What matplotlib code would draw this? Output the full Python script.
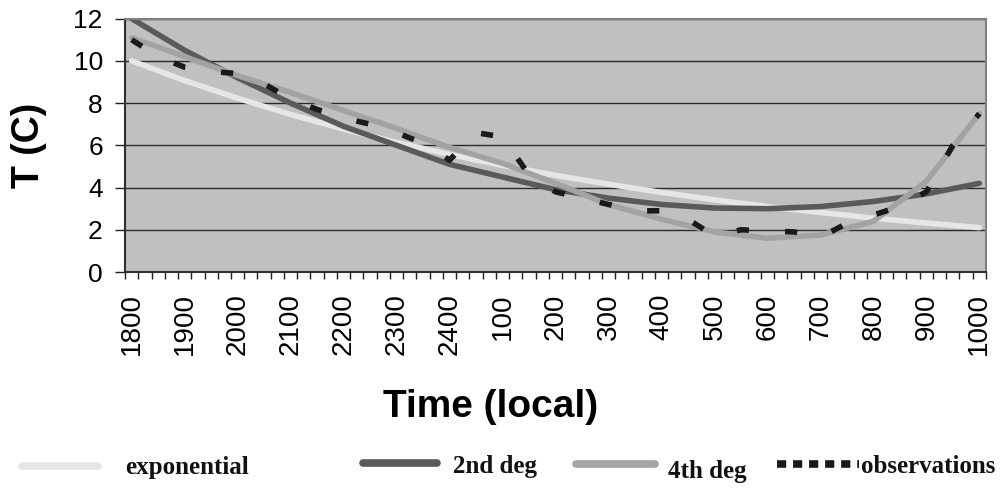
import numpy as np
import matplotlib
matplotlib.use("Agg")
import matplotlib.pyplot as plt
from matplotlib.lines import Line2D

# hour labels (one every 4 fifteen-minute categories)
hour_labels = ['1800', '1900', '2000', '2100', '2200', '2300', '2400', '100', '200',
               '300', '400', '500', '600', '700', '800', '900', '1000']

# observations, every half hour
observations = [11.0, 10.2, 9.7, 9.5, 9.4, 8.9, 8.2, 7.7, 7.3, 7.0, 6.6, 6.1, 5.3,
                6.6, 6.4, 4.6, 3.8, 3.5, 3.2, 2.9, 2.9, 2.5, 1.7, 2.0, 1.95, 1.9,
                1.65, 2.3, 2.7, 3.1, 3.8, 6.0, 7.5]

# trend lines, read every hour
exponential = [10.0, 9.07, 8.23, 7.46, 6.77, 6.14, 5.57, 5.05, 4.58, 4.16, 3.77,
               3.42, 3.10, 2.82, 2.55, 2.32, 2.10]
deg2 = [12.0, 10.5, 9.2, 8.0, 6.9, 6.0, 5.1, 4.5, 3.9, 3.5, 3.2, 3.03, 3.0, 3.1,
        3.34, 3.7, 4.2]
deg4 = [11.1, 10.2, 9.3, 8.5, 7.65, 6.8, 5.9, 5.15, 4.2, 3.2, 2.5, 1.9, 1.6, 1.75,
        2.4, 4.3, 7.5]

names = ['exponential', '2nd deg', '4th deg', 'observations']

n_cat = 65
x_hour = np.arange(len(hour_labels)) * 4
x_half = np.arange(len(observations)) * 2

fig = plt.figure(figsize=(10.02, 4.91), dpi=100)
ax = fig.add_axes([0.1248, 0.446, 0.984 - 0.1248, 0.962 - 0.446])
ax.set_facecolor('#c0c0c0')

c_exp, c_2, c_4, c_obs = '#e6e6e6', '#5a5a5a', '#a3a3a3', '#1a1a1a'
ax.plot(x_hour, exponential, color=c_exp, lw=4, solid_capstyle='round')
ax.plot(x_hour, deg2, color=c_2, lw=4, solid_capstyle='round')
ax.plot(x_hour, deg4, color=c_4, lw=4, solid_capstyle='round')
ax.plot(x_half, observations, color=c_obs, lw=4, dashes=(2.2, 6.5))

ax.set_xlim(-0.5, n_cat - 0.5)
ax.set_ylim(0, 12)
ax.set_yticks(range(0, 13, 2))
ax.yaxis.grid(True, color='#2a2a2a', lw=1)
ax.set_axisbelow(True)

ax.set_xticks(np.arange(-0.5, n_cat, 1))
ax.set_xticklabels([])
ax.tick_params(axis='x', length=5, width=1, color='#202020')
ax.tick_params(axis='y', length=7, width=1, color='#202020', labelsize=19, pad=9)
for lab in ax.get_yticklabels():
    lab.set_family('Liberation Sans')

for xp, lab in zip(x_hour, hour_labels):
    ax.text(xp, -1.0, lab, rotation=90, ha='center', va='top',
            fontsize=20, family='Liberation Sans')

for s in ['top', 'right']:
    ax.spines[s].set_color('#808080')
    ax.spines[s].set_linewidth(1.5)
for s in ['left', 'bottom']:
    ax.spines[s].set_color('#303030')
    ax.spines[s].set_linewidth(1.5)

fig.text(0.029, 0.703, 'T (C)', rotation=90, ha='center', va='center',
         fontsize=27, fontweight='bold', family='Liberation Sans')
fig.text(0.49, 0.171, 'Time (local)', ha='center', va='center',
         fontsize=28, fontweight='bold', family='Liberation Sans')

# legend drawn by hand to keep the uneven spacing of the original
line_x = [(0.022, 0.098), (0.362, 0.436), (0.575, 0.654), (0.775, 0.857)]
line_y = [0.050, 0.057, 0.056, 0.056]
text_x = [0.125, 0.452, 0.667, 0.859]
text_y = [0.034, 0.036, 0.027, 0.036]
colors = [c_exp, c_2, c_4, c_obs]
for i, name in enumerate(names):
    kw = dict(color=colors[i], lw=5.5, transform=fig.transFigure,
              solid_capstyle='round')
    if name == 'observations':
        kw.update(dashes=(1.2, 0.9), dash_capstyle='butt')
    fig.add_artist(Line2D(line_x[i], [line_y[i], line_y[i]], **kw))
    fig.text(text_x[i], text_y[i], name, ha='left', va='baseline', fontsize=18,
             fontweight='bold', family='Liberation Serif', color='#111111')

fig.savefig('out.png', dpi=100)
